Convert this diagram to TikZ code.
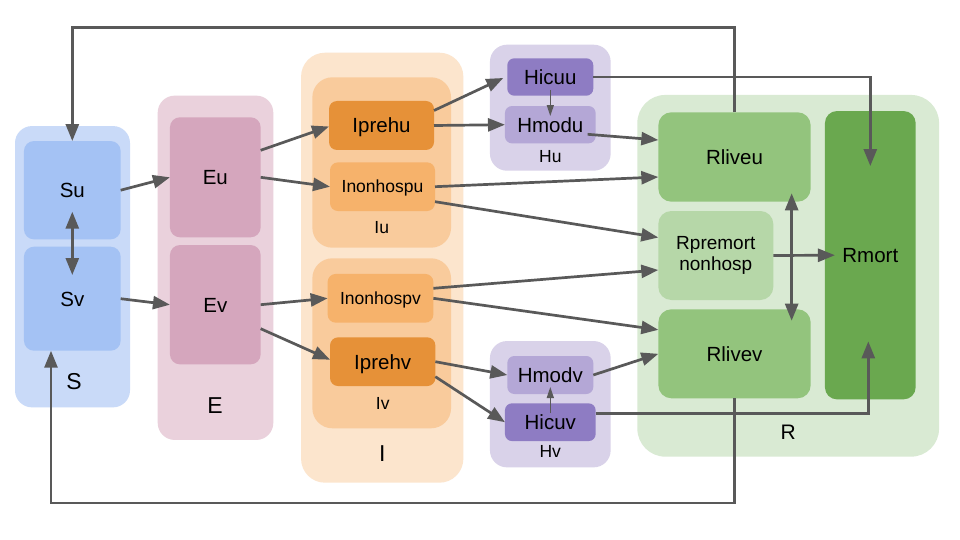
\documentclass[tikz,border=0pt]{standalone}
\usepackage{fontspec}
\setmainfont{Liberation Sans}
\usetikzlibrary{arrows.meta}
\definecolor{SG}{HTML}{C9DAF8}\definecolor{SB}{HTML}{A4C2F4}
\definecolor{EG}{HTML}{EAD1DC}\definecolor{EB}{HTML}{D5A6BD}
\definecolor{IG}{HTML}{FCE5CD}\definecolor{IS}{HTML}{F9CB9C}
\definecolor{INH}{HTML}{F6B26B}\definecolor{IPR}{HTML}{E69138}
\definecolor{HG}{HTML}{D9D2E9}\definecolor{HMOD}{HTML}{B4A7D6}\definecolor{HICU}{HTML}{8E7CC3}
\definecolor{RG}{HTML}{D9EAD3}\definecolor{RL}{HTML}{93C47D}\definecolor{RP}{HTML}{B6D7A8}\definecolor{RM}{HTML}{6AA84F}
\definecolor{AG}{HTML}{595959}
\begin{document}
\begin{tikzpicture}[x=1pt,y=-1pt,
  grp/.style={draw=none,inner sep=0pt,outer sep=0pt},
  bxbase/.style={draw=none,inner sep=0pt,outer sep=0pt,rounded corners=10pt,align=center},
  bx/.style={bxbase,font=\fontsize{20.5}{24}\selectfont,text height=14.7pt,text depth=0pt},
  bxs/.style={bxbase,font=\fontsize{17.5}{21}\selectfont,text height=12.5pt,text depth=0pt},
  sublbl/.style={inner sep=0pt,font=\fontsize{17.5}{21}\selectfont,text height=12.5pt,text depth=0pt},
  grplbl/.style={inner sep=0pt,font=\fontsize{23}{27}\selectfont,text height=16.5pt,text depth=0pt},
  arr/.style={draw=AG,line width=2.7pt,-{Triangle[length=17pt,width=13pt]}},
  darr/.style={draw=AG,line width=2.7pt,{Triangle[length=17pt,width=13pt]}-{Triangle[length=17pt,width=13pt]}},
  sarr/.style={draw=AG,line width=1.4pt,-{Triangle[length=11pt,width=7pt]}}
]
\fill[white] (0,0) rectangle (960,540);
\useasboundingbox (0,0) rectangle (960,540);

% groups
\node[grp,fill=SG,rounded corners=17pt,minimum width=115pt,minimum height=281.3pt] (Sg) at (72.5,266.7) {};
\node[grp,fill=EG,rounded corners=17pt,minimum width=115.6pt,minimum height=344.3pt] (Eg) at (215.5,267.8) {};
\node[grp,fill=IG,rounded corners=24pt,minimum width=162.3pt,minimum height=430pt] (Ig) at (382.2,267.7) {};
\node[grp,fill=IS,rounded corners=20pt,minimum width=138.7pt,minimum height=170.4pt] (Iug) at (381.7,162.5) {};
\node[grp,fill=IS,rounded corners=20pt,minimum width=138.7pt,minimum height=170pt] (Ivg) at (381.7,343.3) {};
\node[grp,fill=HG,rounded corners=17pt,minimum width=120.7pt,minimum height=126pt] (Hug) at (550.3,107.7) {};
\node[grp,fill=HG,rounded corners=17pt,minimum width=120.7pt,minimum height=126.3pt] (Hvg) at (550.3,404.2) {};
\node[grp,fill=RG,rounded corners=28pt,minimum width=301.7pt,minimum height=361.7pt] (Rg) at (788.2,275.8) {};

% group labels
\node[grplbl] (Sl) at (74,381.7) {S};
\node[grplbl] (El) at (215,405) {E};
\node[grplbl] (Il) at (382.3,453.3) {I};
\node[inner sep=0pt,font=\fontsize{21}{25}\selectfont,text height=15pt,text depth=0pt] (Rl) at (788.3,431.7) {R};
\node[sublbl] (Iul) at (381.7,227.4) {Iu};
\node[sublbl] (Ivl) at (382.7,403.6) {Iv};
\node[sublbl] (Hul) at (550.3,156.7) {Hu};
\node[sublbl] (Hvl) at (550.3,451.7) {Hv};

% boxes
\node[bx,fill=SB,minimum width=96.7pt,minimum height=98.3pt] (Su) at (72.3,190.2) {Su};
\node[bx,fill=SB,minimum width=96.7pt,minimum height=104pt] (Sv) at (72.3,298.7) {Sv};
\node[bx,fill=EB,minimum width=90.7pt,minimum height=120pt] (Eu) at (215.3,177.3) {Eu};
\node[bx,fill=EB,minimum width=90.7pt,minimum height=119.3pt] (Ev) at (215.3,304.7) {Ev};
\node[bx,fill=IPR,rounded corners=8pt,minimum width=105pt,minimum height=49pt] (Iprehu) at (381.5,125.5) {Iprehu};
\node[bxs,fill=INH,rounded corners=8pt,minimum width=105pt,minimum height=48.7pt] (Inonhospu) at (382.5,186.7) {Inonhospu};
\node[bxs,fill=INH,rounded corners=8pt,minimum width=105.7pt,minimum height=48.7pt] (Inonhospv) at (380.5,298.3) {Inonhospv};
\node[bx,fill=IPR,rounded corners=8pt,minimum width=105.3pt,minimum height=48.7pt] (Iprehv) at (382.7,361.7) {Iprehv};
\node[bx,fill=HICU,rounded corners=7pt,minimum width=86pt,minimum height=37.4pt] (Hicuu) at (550.3,77) {Hicuu};
\node[bx,fill=HMOD,rounded corners=7pt,minimum width=90.7pt,minimum height=37.3pt] (Hmodu) at (550.3,124.7) {Hmodu};
\node[bx,fill=HMOD,rounded corners=7pt,minimum width=86pt,minimum height=38pt] (Hmodv) at (550.3,375) {Hmodv};
\node[bx,fill=HICU,rounded corners=7pt,minimum width=90.7pt,minimum height=37.7pt] (Hicuv) at (550.3,422.2) {Hicuv};
\node[bx,fill=RL,rounded corners=13pt,minimum width=152.3pt,minimum height=89.4pt] (Rliveu) at (734.5,157) {Rliveu};
\node[bxbase,fill=RP,rounded corners=13pt,minimum width=115pt,minimum height=89pt,font=\fontsize{19}{21}\selectfont] (Rpremort) at (715.8,255.5) {Rpremort\\nonhosp};
\node[bx,fill=RL,rounded corners=13pt,minimum width=152.3pt,minimum height=89pt] (Rlivev) at (734.5,353.8) {Rlivev};
\node[bx,fill=RM,rounded corners=12pt,minimum width=90.7pt,minimum height=288.3pt] (Rmort) at (870.3,255.2) {Rmort};

% helper coordinates
\coordinate (topY) at (0,27.3);
\coordinate (botY) at (0,503);

% connectors
\draw[arr] (Su.east) -- (Eu.west);
\draw[arr] (Sv.east) -- (Ev.west);
\draw[darr] ([yshift=-21.5pt]Su.center) -- ([yshift=23.7pt]Sv.center);
\draw[arr] ([yshift=27pt]Eu.east) -- ([yshift=-1pt]Iprehu.west);
\draw[arr] (Eu.east) -- (Inonhospu.west);
\draw[arr] (Ev.east) -- (Inonhospv.west);
\draw[arr] ([yshift=-24pt]Ev.east) -- ([yshift=2pt]Iprehv.west);
\draw[arr] ([yshift=15pt]Iprehu.east) -- ([xshift=-4pt,yshift=-1pt]Hicuu.west);
\draw[arr] (Iprehu.east) -- (Hmodu.west);
\draw[sarr] ([yshift=-13pt]Hicuu.center) -- ([yshift=-10pt]Hmodu.north);
\draw[arr] (Iprehv.east) -- (Hmodv.west);
\draw[arr] ([yshift=-15pt]Iprehv.east) -- (Hicuv.west);
\draw[sarr] ([yshift=9pt]Hicuv.center) -- ([yshift=7pt]Hmodv.south);
\draw[arr] ([xshift=-8pt,yshift=-9.6pt]Hmodu.east) -- ([yshift=17pt]Rliveu.west);
\draw[arr] (Inonhospu.east) -- ([yshift=-20pt]Rliveu.west);
\draw[arr] ([yshift=-15pt]Inonhospu.east) -- ([yshift=18pt]Rpremort.west);
\draw[arr] ([yshift=10pt]Inonhospv.east) -- ([yshift=-14.5pt]Rpremort.west);
\draw[arr] (Inonhospv.east) -- ([yshift=24pt]Rlivev.west);
\draw[arr] (Hmodv.east) -- (Rlivev.west);
\draw[arr] (Hicuu.east) -| ([yshift=-55pt]Rmort.north);
\draw[arr] ([yshift=9pt]Hicuv.east) -| ([xshift=-2pt,yshift=58pt]Rmort.south);
\draw[arr] (Rpremort.east) -- ([xshift=10pt]Rmort.west);
\draw[darr] ([xshift=-19pt,yshift=8.4pt]Rliveu.south east) -- ([xshift=-19pt,yshift=-11.4pt]Rlivev.north east);
\draw[arr] (Rliveu.north) -- (Rliveu.north |- topY) -| (Su.north);
\draw[arr] (Rlivev.south) -- (Rlivev.south |- botY) -| ([xshift=-21.3pt]Sv.south);
\end{tikzpicture}
\end{document}
